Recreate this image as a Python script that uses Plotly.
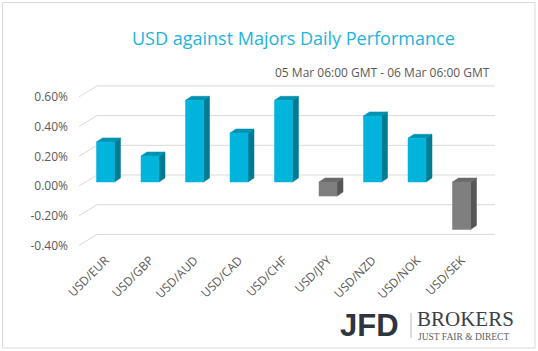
import plotly.graph_objects as go

# ---- data ----
categories = ["USD/EUR", "USD/GBP", "USD/AUD", "USD/CAD", "USD/CHF",
              "USD/JPY", "USD/NZD", "USD/NOK", "USD/SEK"]
values = [0.27, 0.175, 0.55, 0.33, 0.55, -0.095, 0.445, 0.295, -0.32]
ytick_values = [-0.4, -0.2, 0.0, 0.2, 0.4, 0.6]
ytick_labels = ["-0.40%", "-0.20%", "0.00%", "0.20%", "0.40%", "0.60%"]
title_text = "USD against Majors Daily Performance"
subtitle_text = "05 Mar 06:00 GMT - 06 Mar 06:00 GMT"

# ---- geometry (pixel layout) ----
W, H = 538, 351
L, R, T, B = 79, 495, 80, 250
px_per_x = 44.5
px_per_y = 148.5
zero_px = 182
x_lo = -(105.5 - L) / px_per_x
x_hi = x_lo + (R - L) / px_per_x
y_hi = (zero_px - T) / px_per_y
y_lo = -(B - zero_px) / px_per_y

half_w = 9 / px_per_x
dx = 6 / px_per_x
dy = 4 / px_per_y
back_off = 7 / px_per_y
front_off = -4 / px_per_y
back_left = x_lo + 18 / px_per_x

POS = dict(front="#00b4dc", side="#007b94", top="#0092b0")
NEG = dict(front="#7f7f7f", side="#565656", top="#6a6a6a")

fig = go.Figure()

# gridlines (3D back wall + floor diagonal)
gx, gy = [], []
for v in ytick_values:
    gx += [x_lo, back_left, x_hi, None]
    gy += [v + front_off, v + back_off, v + back_off, None]
fig.add_trace(go.Scatter(x=gx, y=gy, mode="lines",
                         line=dict(color="#d9d9d9", width=1),
                         hoverinfo="skip", showlegend=False))


def faces(idx_vals):
    fr_x, fr_y, sd_x, sd_y, tp_x, tp_y = [], [], [], [], [], []
    for i, v in idx_vals:
        a, b = i - half_w, i + half_w
        fr_x += [a, b, b, a, a, None]
        fr_y += [0, 0, v, v, 0, None]
        sd_x += [b, b + dx, b + dx, b, b, None]
        sd_y += [0, dy, v + dy, v, 0, None]
        t = max(v, 0)
        tp_x += [a, a + dx, b + dx, b, a, None]
        tp_y += [t, t + dy, t + dy, t, t, None]
    return fr_x, fr_y, sd_x, sd_y, tp_x, tp_y


for cols, sel in ((POS, [(i, v) for i, v in enumerate(values) if v >= 0]),
                  (NEG, [(i, v) for i, v in enumerate(values) if v < 0])):
    fx, fy, sx, sy, tx, ty = faces(sel)
    for xs, ys, c in ((sx, sy, cols["side"]), (tx, ty, cols["top"]),
                      (fx, fy, cols["front"])):
        fig.add_trace(go.Scatter(x=xs, y=ys, mode="lines", fill="toself",
                                 fillcolor=c, line=dict(color=c, width=0.5),
                                 hoverinfo="skip", showlegend=False))

fig.update_layout(
    width=W, height=H,
    margin=dict(l=L, r=W - R, t=T, b=H - B),
    paper_bgcolor="white", plot_bgcolor="white",
    font=dict(family="Open Sans, sans-serif", color="#595959", size=12),
    showlegend=False,
    xaxis=dict(range=[x_lo, x_hi], showgrid=False, zeroline=False,
               showline=False, tickmode="array",
               tickvals=list(range(len(categories))), ticktext=categories,
               tickangle=-45, ticks="", tickfont=dict(size=12, color="#595959")),
    yaxis=dict(range=[y_lo, y_hi], showgrid=False, zeroline=False,
               showline=False, tickmode="array",
               tickvals=[v + front_off for v in ytick_values],
               ticktext=ytick_labels, ticks="", ticklabelstandoff=10,
               tickfont=dict(size=12, color="#595959")),
)


def px2paper(px, py):
    return (px - L) / (R - L), (B - py) / (B - T)


tx_, ty_ = px2paper(293, 38)
fig.add_annotation(text=title_text, xref="paper", yref="paper", x=tx_, y=ty_,
                   xanchor="center", yanchor="middle", showarrow=False,
                   font=dict(size=18, color="#1db3dc", family="Open Sans"))
sx_, sy_ = px2paper(492, 73)
fig.add_annotation(text=subtitle_text, xref="paper", yref="paper", x=sx_, y=sy_,
                   xanchor="right", yanchor="middle", showarrow=False,
                   font=dict(size=12, color="#595959", family="Open Sans"))

# logo
jx, jy = px2paper(401, 325)
fig.add_annotation(text="<b>JFD</b>", xref="paper", yref="paper", x=jx, y=jy,
                   xanchor="right", yanchor="middle", showarrow=False,
                   font=dict(size=31, color="#2e3540", family="Liberation Sans"))
bx, by = px2paper(416, 318.5)
fig.add_annotation(text="BROKERS", xref="paper", yref="paper", x=bx, y=by,
                   xanchor="left", yanchor="middle", showarrow=False, borderpad=0,
                   font=dict(size=21, color="#3a4049", family="Liberation Serif"))
jx2, jy2 = px2paper(417, 337)
fig.add_annotation(text="JUST FAIR &amp; DIRECT", xref="paper", yref="paper",
                   x=jx2, y=jy2, xanchor="left", yanchor="middle", showarrow=False,
                   borderpad=0,
                   font=dict(size=9.5, color="#5a5f66", family="Liberation Serif"))
x0, y0 = px2paper(411, 313)
x1, y1 = px2paper(411, 338)
fig.add_shape(type="line", xref="paper", yref="paper", x0=x0, y0=y0, x1=x1, y1=y1,
              line=dict(color="#b8b8b8", width=1))

# outer border
bx0, by0 = px2paper(2.5, 2.5)
bx1, by1 = px2paper(535, 348)
fig.add_shape(type="rect", xref="paper", yref="paper", x0=bx0, y0=by0,
              x1=bx1, y1=by1, line=dict(color="#d9d9d9", width=1))

fig.write_html("out.html")
